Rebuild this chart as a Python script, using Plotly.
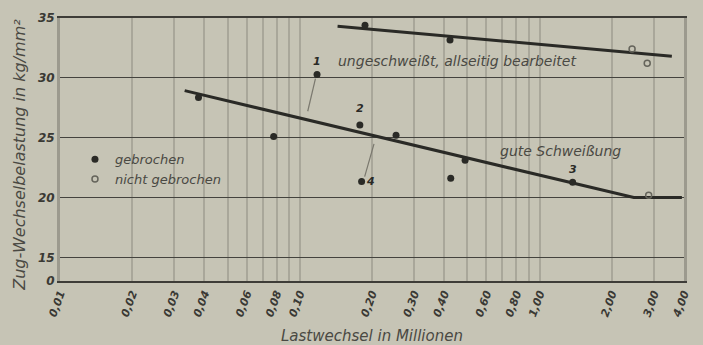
import math
import plotly.graph_objects as go

# ---------------- data ----------------
x_tick_vals = [0.01, 0.02, 0.03, 0.04, 0.05, 0.06, 0.07, 0.08, 0.09,
               0.1, 0.2, 0.3, 0.4, 0.5, 0.6, 0.7, 0.8, 0.9, 1.0, 2.0, 3.0, 4.0]
x_tick_text = ["0,01", "0,02", "0,03", "0,04", "", "0,06", "", "0,08", "",
               "0,10", "0,20", "0,30", "0,40", "", "0,60", "", "0,80", "", "1,00",
               "2,00", "3,00", "4,00"]
y_axis_bottom = 13.03          # broken axis: position where "0" sits
y_tick_vals = [y_axis_bottom, 15, 20, 25, 30, 35]
y_tick_text = ["0", "15", "20", "25", "30", "35"]

# gebrochen (broken) specimens
broken_x = [0.0378, 0.0778, 0.118, 0.178, 0.181, 0.252, 0.426, 0.489, 1.373, 0.187, 0.423]
broken_y = [28.36, 25.10, 30.27, 26.07, 21.34, 25.21, 21.61, 23.11, 21.28, 34.39, 33.16]
# nicht gebrochen (not broken)
unbroken_x = [2.43, 2.81, 2.85]
unbroken_y = [32.40, 31.23, 20.20]

# fitted curves
upper_x = [0.1437, 3.56]
upper_y = [34.31, 31.80]
lower_x = [0.0331, 2.47, 3.92]
lower_y = [28.93, 20.00, 20.00]

# numbered specimens: label -> index into broken arrays
point_labels = {"1": 2, "2": 3, "3": 8, "4": 4}

# leader lines (label pointers)
leader1_x = [0.1162, 0.1079]
leader1_y = [29.94, 27.21]
leader4_x = [0.1864, 0.2039]
leader4_y = [21.75, 24.48]

# curve captions (position in data units)
caption_upper = ("ungeschweißt, allseitig bearbeitet", 0.141, 31.45)
caption_lower = ("gute Schweißung", 0.673, 23.85)

# ---------------- style ----------------
BG = "#c6c4b5"
INK = "#2a2a26"
TXT = "#4a4943"
FONT = "DejaVu Sans"

fig = go.Figure()

for lx, ly in ((leader1_x, leader1_y), (leader4_x, leader4_y)):
    fig.add_trace(go.Scatter(x=lx, y=ly, mode="lines",
                             line=dict(color="#7a786e", width=1.2),
                             showlegend=False, hoverinfo="skip"))

fig.add_trace(go.Scatter(x=upper_x, y=upper_y, mode="lines",
                         line=dict(color=INK, width=3), showlegend=False))
fig.add_trace(go.Scatter(x=lower_x, y=lower_y, mode="lines",
                         line=dict(color=INK, width=3), showlegend=False))

fig.add_trace(go.Scatter(x=broken_x, y=broken_y, mode="markers", name="gebrochen",
                         marker=dict(color=INK, size=7, symbol="circle")))
fig.add_trace(go.Scatter(x=unbroken_x, y=unbroken_y, mode="markers", name="nicht gebrochen",
                         marker=dict(color="#65645b", size=6, symbol="circle-open",
                                     line=dict(width=1.5))))

# point numbers (annotations on a log axis take log10 positions)
offsets = {"1": (0, 13), "2": (0, 16), "3": (0, 13), "4": (9, 0)}
for lab, idx in point_labels.items():
    dx, dy = offsets[lab]
    fig.add_annotation(x=math.log10(broken_x[idx]), y=broken_y[idx], xref="x", yref="y",
                       text=lab, showarrow=False, xshift=dx, yshift=dy,
                       font=dict(family=FONT, size=11, color=INK, style="italic",
                                 weight="bold"))

for txt, cx, cy in (caption_upper, caption_lower):
    fig.add_annotation(x=math.log10(cx), y=cy, xref="x", yref="y", xanchor="left",
                       text=txt, showarrow=False,
                       font=dict(family=FONT, size=14, color=TXT, style="italic"))

# axis titles
fig.add_annotation(x=0.5, y=0, xref="paper", yref="paper", yanchor="top", yshift=-44,
                   text="Lastwechsel in Millionen", showarrow=False,
                   font=dict(family=FONT, size=15, color=TXT, style="italic"))
fig.add_annotation(x=0, y=0.48, xref="paper", yref="paper", xanchor="center",
                   xshift=-40, textangle=-90,
                   text="Zug-Wechselbelastung in kg/mm²", showarrow=False,
                   font=dict(family=FONT, size=16, color=TXT, style="italic"))

fig.update_layout(
    width=703, height=345,
    margin=dict(l=60, r=11, t=12, b=64),
    paper_bgcolor=BG, plot_bgcolor=BG,
    showlegend=True,
    legend=dict(x=0.024, y=0.52, xanchor="left", yanchor="top",
                bgcolor="rgba(0,0,0,0)", borderwidth=0,
                font=dict(family=FONT, size=13, color=TXT, style="italic"),
                tracegroupgap=0, itemwidth=30),
    xaxis=dict(type="log", range=[-2, 0.6021],
               tickvals=x_tick_vals, ticktext=x_tick_text, tickangle=-70,
               tickfont=dict(family=FONT, size=11, color="#3a3934",
                             style="italic", weight="bold"),
               showgrid=True, gridcolor="#a9a79a", gridwidth=2,
               showline=True, mirror=True, linecolor="#3e3d38", linewidth=1.5,
               zeroline=False, ticks=""),
    yaxis=dict(range=[y_axis_bottom, 35],
               tickvals=y_tick_vals, ticktext=y_tick_text,
               tickfont=dict(family=FONT, size=12, color="#3a3934",
                             style="italic", weight="bold"),
               showgrid=True, gridcolor="#44433e", gridwidth=1.3,
               showline=True, mirror=True, linecolor="#9c9a8e", linewidth=3,
               zeroline=False, ticks=""),
)

post = ("document.body.style.margin='0';document.body.style.overflow='hidden';"
        "document.body.style.background='" + BG + "';"
        "var gd=document.getElementById('{plot_id}');"
        "gd.style.position='fixed';gd.style.left='0px';gd.style.top='0px';")

fig.write_html("out.html", post_script=post, config={"displayModeBar": False})
